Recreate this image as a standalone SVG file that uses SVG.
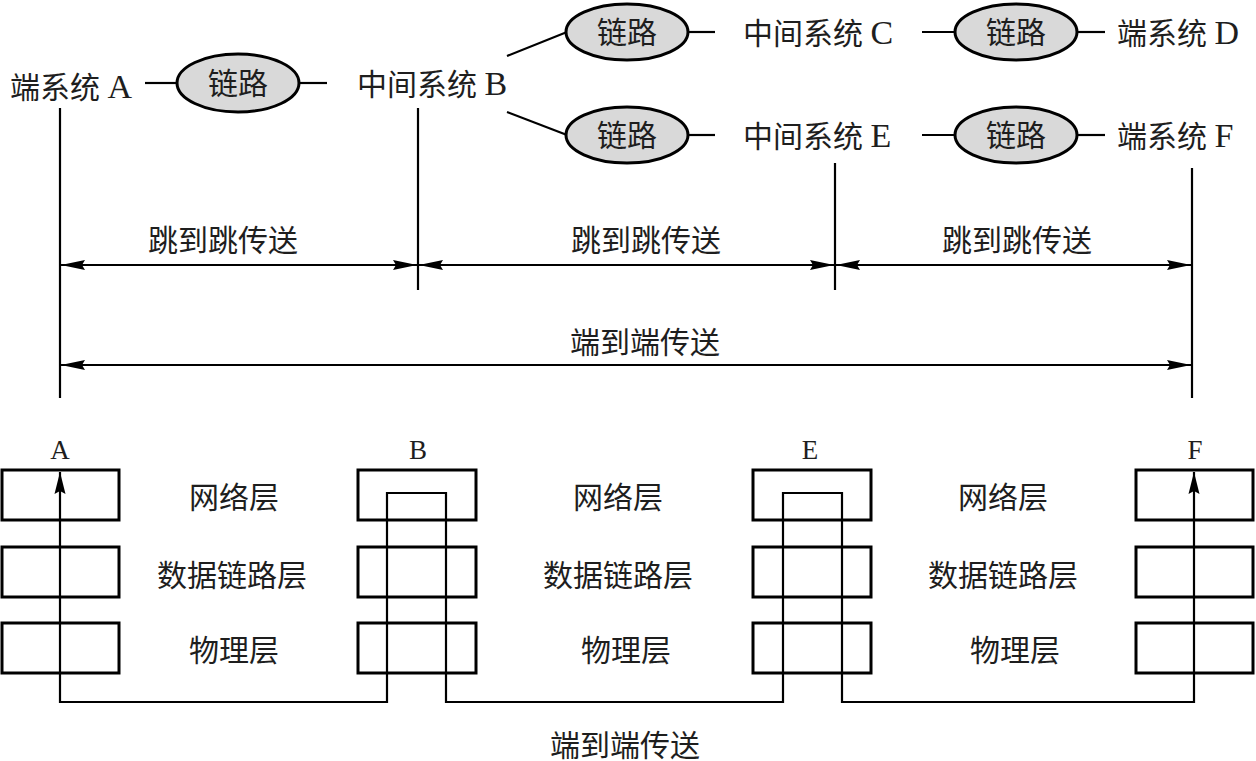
<svg xmlns="http://www.w3.org/2000/svg" width="1256" height="761" viewBox="0 0 1256 761">
<defs>
<marker id="ah" markerUnits="userSpaceOnUse" markerWidth="24" markerHeight="11" refX="24" refY="5.5" orient="auto-start-reverse"><path d="M0,0.5 L24,5.5 L0,10.5 L3,5.5 z" fill="#000"/></marker>
<marker id="ahs" markerUnits="userSpaceOnUse" markerWidth="22" markerHeight="12" refX="22" refY="6" orient="auto-start-reverse"><path d="M0,0.5 L22,6 L0,11.5 L3,6 z" fill="#000"/></marker>
</defs>
<style>
text{font-family:"Liberation Serif","Noto Sans CJK SC",serif;font-size:30px;fill:#1e1e1e}
.c{text-anchor:middle}
.l{font-size:27px}
.lat{font-size:34px}
.ln{stroke:#000;stroke-width:2.2;fill:none}
.el{fill:#d9d9d9;stroke:#000;stroke-width:3}
.bx{fill:none;stroke:#000;stroke-width:3}
</style>
<rect width="1256" height="761" fill="#fff"/>

<g id="connectors">
<line class="ln" x1="145" y1="83" x2="177" y2="83"/>
<line class="ln" x1="300" y1="83" x2="327" y2="83"/>
<line class="ln" x1="507" y1="56" x2="567" y2="32"/>
<line class="ln" x1="688" y1="32" x2="715" y2="32"/>
<line class="ln" x1="922" y1="32" x2="955" y2="32"/>
<line class="ln" x1="1077" y1="32" x2="1105" y2="32"/>
<line class="ln" x1="507" y1="112" x2="567" y2="135"/>
<line class="ln" x1="688" y1="135" x2="715" y2="135"/>
<line class="ln" x1="922" y1="135" x2="955" y2="135"/>
<line class="ln" x1="1077" y1="135" x2="1105" y2="135"/>
<line class="ln" x1="60" y1="108" x2="60" y2="398"/>
<line class="ln" x1="418" y1="108" x2="418" y2="290"/>
<line class="ln" x1="835" y1="163" x2="835" y2="290"/>
<line class="ln" x1="1192" y1="168" x2="1192" y2="398"/>
<line class="ln" x1="61" y1="265" x2="417" y2="265" marker-start="url(#ah)" marker-end="url(#ah)"/>
<line class="ln" x1="419" y1="265" x2="834" y2="265" marker-start="url(#ah)" marker-end="url(#ah)"/>
<line class="ln" x1="836" y1="265" x2="1191" y2="265" marker-start="url(#ah)" marker-end="url(#ah)"/>
<line class="ln" x1="61" y1="365" x2="1191" y2="365" marker-start="url(#ah)" marker-end="url(#ah)"/>
<path class="ln" d="M60,472 V702 H387 V493 H446 V702 H783 V493 H842 V702 H1194 V472" marker-start="url(#ahs)" marker-end="url(#ahs)"/>
</g>

<g id="node-A"><text x="10" y="98">端系统 <tspan class="lat">A</tspan></text></g>
<g id="link-AB"><ellipse class="el" cx="238" cy="83" rx="61" ry="29"/><text class="c" x="238" y="94">链路</text></g>
<g id="node-B"><text x="357" y="95">中间系统 <tspan class="lat">B</tspan></text></g>
<g id="link-BC"><ellipse class="el" cx="627" cy="32" rx="61" ry="28"/><text class="c" x="627" y="43">链路</text></g>
<g id="node-C"><text x="743" y="44">中间系统 <tspan class="lat">C</tspan></text></g>
<g id="link-CD"><ellipse class="el" cx="1016" cy="32" rx="61" ry="28"/><text class="c" x="1016" y="43">链路</text></g>
<g id="node-D"><text x="1117" y="44">端系统 <tspan class="lat">D</tspan></text></g>
<g id="link-BE"><ellipse class="el" cx="627" cy="135" rx="61" ry="28"/><text class="c" x="627" y="146">链路</text></g>
<g id="node-E"><text x="743" y="147">中间系统 <tspan class="lat">E</tspan></text></g>
<g id="link-EF"><ellipse class="el" cx="1016" cy="135" rx="61" ry="28"/><text class="c" x="1016" y="146">链路</text></g>
<g id="node-F"><text x="1117" y="147">端系统 <tspan class="lat">F</tspan></text></g>

<g id="labels">
<text class="c" x="223" y="251">跳到跳传送</text>
<text class="c" x="646" y="251">跳到跳传送</text>
<text class="c" x="1017" y="251">跳到跳传送</text>
<text class="c" x="645" y="353">端到端传送</text>
<text class="c" x="625" y="756">端到端传送</text>
</g>

<g id="stack-A">
<text class="c l" x="60" y="459">A</text>
<rect class="bx" x="2" y="470" width="117" height="50"/>
<rect class="bx" x="2" y="547" width="117" height="50"/>
<rect class="bx" x="2" y="623" width="117" height="50"/>
</g>
<g id="stack-B">
<text class="c l" x="418" y="459">B</text>
<rect class="bx" x="358" y="470" width="118" height="50"/>
<rect class="bx" x="358" y="547" width="118" height="50"/>
<rect class="bx" x="358" y="623" width="118" height="50"/>
</g>
<g id="stack-E">
<text class="c l" x="810" y="459">E</text>
<rect class="bx" x="753" y="470" width="118" height="50"/>
<rect class="bx" x="753" y="547" width="118" height="50"/>
<rect class="bx" x="753" y="623" width="118" height="50"/>
</g>
<g id="stack-F">
<text class="c l" x="1195" y="459">F</text>
<rect class="bx" x="1136" y="470" width="117" height="50"/>
<rect class="bx" x="1136" y="547" width="117" height="50"/>
<rect class="bx" x="1136" y="623" width="117" height="50"/>
</g>

<g id="layer-labels">
<text class="c" x="234" y="508">网络层</text>
<text class="c" x="232" y="586">数据链路层</text>
<text class="c" x="234" y="661">物理层</text>
<text class="c" x="618" y="508">网络层</text>
<text class="c" x="618" y="586">数据链路层</text>
<text class="c" x="626" y="661">物理层</text>
<text class="c" x="1003" y="508">网络层</text>
<text class="c" x="1003" y="586">数据链路层</text>
<text class="c" x="1015" y="661">物理层</text>
</g>
</svg>
